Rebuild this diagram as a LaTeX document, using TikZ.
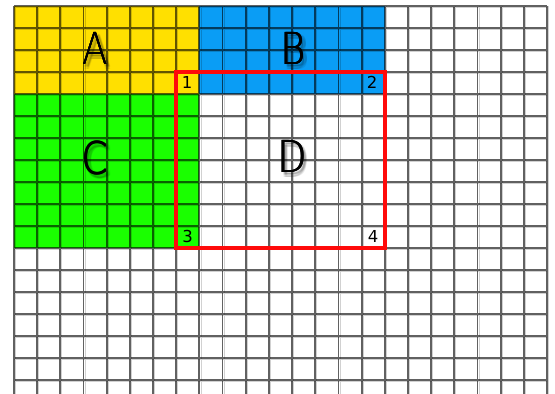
\documentclass[tikz,border=0pt]{standalone}
\usepackage{fontspec}
\setmainfont{DejaVu Sans}
\newfontfamily\thinfont{DejaVuSans-ExtraLight}[Extension=.ttf]
\definecolor{regA}{HTML}{FFE000}
\definecolor{regB}{HTML}{0A9DF5}
\definecolor{regC}{HTML}{1AFF00}
\definecolor{frameRed}{HTML}{FF0A0A}
\newcommand\shiftbox[3]{\rlap{\hspace*{#1}\raisebox{#2}{#3}}}
\newcommand\biglabel[1]{%
  {\color{black}\pgfsetfillopacity{0.075}%
   \shiftbox{2pt}{-2pt}{#1}\shiftbox{3.5pt}{-2pt}{#1}\shiftbox{5pt}{-2pt}{#1}%
   \shiftbox{2pt}{-3.5pt}{#1}\shiftbox{3.5pt}{-3.5pt}{#1}\shiftbox{5pt}{-3.5pt}{#1}%
   \shiftbox{2pt}{-5pt}{#1}\shiftbox{3.5pt}{-5pt}{#1}\shiftbox{5pt}{-5pt}{#1}%
   \pgfsetfillopacity{1}}%
  \shiftbox{0pt}{0pt}{#1}\shiftbox{0.7pt}{0pt}{#1}%
  \shiftbox{0pt}{-0.5pt}{#1}\shiftbox{0.7pt}{-0.5pt}{#1}%
  \phantom{#1}}
\begin{document}
\begin{tikzpicture}[x=1pt,y=-1pt,
  big/.style={font=\thinfont\fontsize{44}{44}\selectfont, inner sep=0pt, anchor=base},
  num/.style={font=\fontsize{16.5}{16.5}\selectfont, inner sep=0pt},
  gridline/.style={line width=1.8pt, draw=black, opacity=0.62},
  gridhi/.style={line width=0.9pt, draw=black, opacity=0.18},
  framebox/.style={draw=frameRed, line width=4pt}]
\useasboundingbox (0,0) rectangle (555,394);
\def\cw{23.174}
\def\rh{22}
% regions
\fill[regA] (14,6) rectangle ({14+8*\cw},{6+4*\rh});
\fill[regB] ({14+8*\cw},6) rectangle ({14+16*\cw},{6+4*\rh});
\fill[regC] (14,{6+4*\rh}) rectangle ({14+8*\cw},{6+11*\rh});
% grid
\begin{scope}
\clip (12,4) rectangle (549,394);
\draw[gridhi] \foreach \i in {0,...,23} {({14+\i*\cw+1.6},6) -- ({14+\i*\cw+1.6},394)}
  \foreach \j in {0,...,17} {(14,{6+\j*\rh+1.6}) -- (547,{6+\j*\rh+1.6})};
\draw[gridline] \foreach \i in {0,...,23} {({14+\i*\cw},6) -- ({14+\i*\cw},394)}
  \foreach \j in {0,...,17} {(14,{6+\j*\rh}) -- (547,{6+\j*\rh})};
\end{scope}
% red frame
\coordinate (f1) at ({14+7*\cw},{6+3*\rh});
\coordinate (f4) at ({14+16*\cw},{6+11*\rh});
\draw[framebox] (f1) rectangle (f4);
% big labels with soft shadow
\node[big] (A) at (95,64.3) {\scalebox{0.85}[1]{\biglabel{A}}};
\node[big] (B) at (293,64.3) {\scalebox{0.85}[1]{\biglabel{B}}};
\node[big] (C) at (95,173.5) {\scalebox{0.85}[1]{\biglabel{C}}};
\node[big] (D) at (292,172.3) {\scalebox{0.85}[1]{\biglabel{D}}};
% corner numbers
\node[num] (n1) at (187,82.5) {1};
\node[num] (n2) at (372,82.5) {2};
\node[num] (n3) at (187.5,236.5) {3};
\node[num] (n4) at (373,236.5) {4};
\end{tikzpicture}
\end{document}
